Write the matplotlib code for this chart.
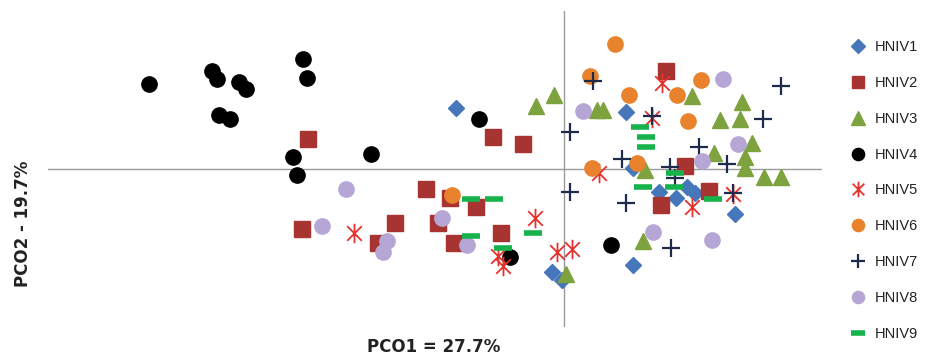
import matplotlib
matplotlib.use("Agg")
import matplotlib.pyplot as plt
from matplotlib.path import Path

# PCO scores (arbitrary units)
hniv1_x = [-1.08, 0.62, 0.69, -0.12, -0.02, 0.69, 1.71, 0.95, 1.12, 1.23, 1.31]
hniv1_y = [0.61, 0.57, 0.01, -1.03, -1.11, -0.96, -0.45, -0.23, -0.29, -0.18, -0.24]

hniv2_x = [-2.56, -2.62, -1.69, -1.86, -0.71, -0.41, 1.02, 1.21, -1.38, -1.14, -0.88, -1.26, -1.10, -0.63, 0.97, 1.45]
hniv2_y = [0.30, -0.60, -0.54, -0.74, 0.32, 0.25, 0.98, 0.03, -0.20, -0.29, -0.38, -0.54, -0.74, -0.64, -0.36, -0.22]

hniv3_x = [-0.28, -0.10, 0.33, 0.39, 1.28, 1.78, 1.56, 1.76, 1.88, 1.50, 1.81, 1.81, 2.00, 2.17, 0.81, 0.79, 0.02]
hniv3_y = [0.63, 0.74, 0.59, 0.59, 0.73, 0.67, 0.49, 0.50, 0.26, 0.16, 0.12, 0.01, -0.08, -0.08, -0.01, -0.72, -1.05]

hniv4_x = [-4.15, -3.52, -3.47, -3.25, -3.18, -3.45, -3.34, -2.61, -2.57, -2.71, -2.67, -1.93, -0.85, 0.47, -0.54]
hniv4_y = [0.85, 0.98, 0.90, 0.87, 0.80, 0.54, 0.50, 1.10, 0.91, 0.12, -0.06, 0.15, 0.50, -0.76, -0.88]

hniv5_x = [-2.10, 0.98, 0.88, 0.35, -0.29, -0.07, 0.08, -0.66, -0.61, 1.28, 1.69]
hniv5_y = [-0.64, 0.86, 0.51, -0.04, -0.49, -0.83, -0.80, -0.87, -0.97, -0.38, -0.25]

hniv6_x = [0.51, 0.26, 0.65, 1.13, 1.37, 1.24, 0.28, 0.73, -1.12]
hniv6_y = [1.25, 0.93, 0.74, 0.74, 0.89, 0.48, 0.01, 0.06, -0.26]

hniv7_x = [0.29, 2.17, 0.88, 1.99, 0.06, 1.35, 0.58, 1.06, 1.63, 0.06, 0.62, 1.07, 1.11, 1.69]
hniv7_y = [0.88, 0.83, 0.53, 0.50, 0.37, 0.22, 0.10, 0.02, 0.05, -0.23, -0.34, -0.79, -0.09, -0.24]

hniv8_x = [-2.18, -2.42, -1.77, -1.81, 0.19, 1.59, 1.74, 1.38, -1.22, -0.97, 0.89, 1.48]
hniv8_y = [-0.20, -0.57, -0.72, -0.83, 0.58, 0.90, 0.25, 0.08, -0.49, -0.76, -0.63, -0.71]

hniv9_x = [0.76, 0.82, 0.82, 1.11, 0.79, 1.10, 1.49, -0.93, -0.70, -0.93, -0.61, -0.31]
hniv9_y = [0.42, 0.32, 0.22, -0.04, -0.18, -0.18, -0.30, -0.30, -0.30, -0.67, -0.79, -0.64]

# asterisk: X plus a vertical stroke
star = Path([(0, -1), (0, 1), (-0.75, -0.75), (0.75, 0.75), (-0.75, 0.75), (0.75, -0.75)],
            [Path.MOVETO, Path.LINETO] * 3)

series = [
    ("HNIV1", hniv1_x, hniv1_y, dict(marker="D", ms=8.5, color="#4677BA", mec="#4677BA")),
    ("HNIV2", hniv2_x, hniv2_y, dict(marker="s", ms=11, color="#A83431", mec="#A83431")),
    ("HNIV3", hniv3_x, hniv3_y, dict(marker="^", ms=12, color="#7EA23D", mec="#7EA23D")),
    ("HNIV4", hniv4_x, hniv4_y, dict(marker="o", ms=11, color="black", mec="black")),
    ("HNIV5", hniv5_x, hniv5_y, dict(marker=star, ms=14, color="#E5322D", mew=1.3)),
    ("HNIV6", hniv6_x, hniv6_y, dict(marker="o", ms=11, color="#E8822C", mec="#E8822C")),
    ("HNIV7", hniv7_x, hniv7_y, dict(marker="+", ms=13, color="#1E2B4A", mew=1.6)),
    ("HNIV8", hniv8_x, hniv8_y, dict(marker="o", ms=11, color="#B6A6D6", mec="#B6A6D6")),
    ("HNIV9", hniv9_x, hniv9_y, dict(marker="_", ms=13, color="#16B24B", mew=4)),
]

fig = plt.figure(figsize=(9.35, 3.57), dpi=100)
ax = fig.add_axes([48 / 935, 1 - 327 / 357, (822 - 48) / 935, (327 - 11) / 357])

ax.axhline(0, color="#9a9a9a", lw=1, zorder=0)
ax.axvline(0, color="#9a9a9a", lw=1, zorder=0)

for name, xs, ys, style in series:
    ax.plot(xs, ys, ls="none", label=name, **style)

ax.set_xlim(-5.16, 2.58)
ax.set_ylim(-1.58, 1.58)
for s in ax.spines.values():
    s.set_visible(False)
ax.set_xticks([])
ax.set_yticks([])

fig.text(434 / 935, 1 - 347 / 357, "PCO1 = 27.7%", ha="center", va="center",
         fontsize=12, fontweight="bold", color="#222222")
fig.text(23 / 935, 1 - 224 / 357, "PCO2 - 19.7%", ha="center", va="center",
         rotation=90, fontsize=12, fontweight="bold", color="#222222")

leg = fig.legend(loc="upper left", bbox_to_anchor=(849 / 935, 1 - 40 / 357),
                 frameon=False, handlelength=1.2, handletextpad=0.6,
                 labelspacing=1.5, borderaxespad=0, borderpad=0, markerscale=0.8,
                 prop={"family": "Liberation Sans", "size": 10.5})
for t in leg.get_texts():
    t.set_color("#222222")

fig.savefig("out.png", dpi=100)
